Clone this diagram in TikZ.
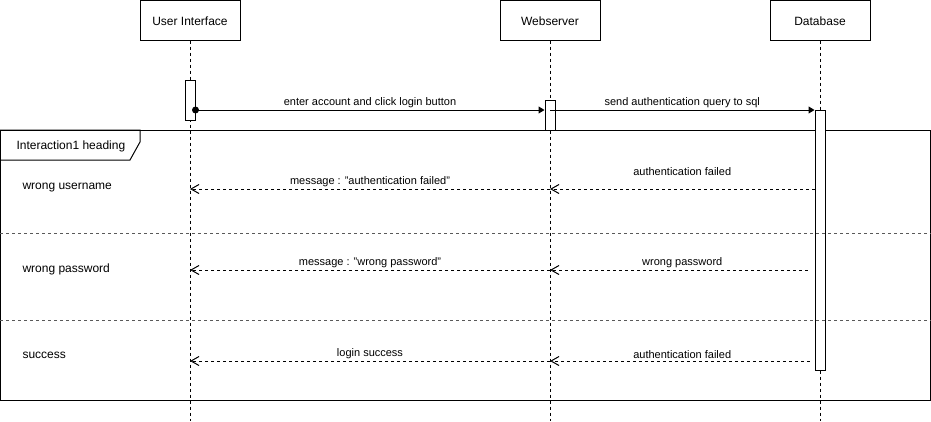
\documentclass[tikz,border=0pt]{standalone}
\usepackage{fontspec}
\setmainfont{Liberation Sans}
\usetikzlibrary{arrows.meta,positioning}

\begin{document}
\begin{tikzpicture}[x=1pt,y=-1pt,line width=1pt,on grid,
   font=\fontsize{11}{13}\selectfont,
   head/.style={draw,minimum width=100pt,minimum height=40pt,inner sep=0pt,
      font=\fontsize{12}{14}\selectfont,text height=11pt,text depth=1pt},
   case/.style={anchor=base west,inner sep=0pt,font=\fontsize{12}{14}\selectfont},
   act/.style={draw,fill=white,minimum width=10pt,inner sep=0pt},
   life/.style={dash pattern=on 3pt off 3pt},
   sep/.style={gray!70!black,dash pattern=on 3pt off 3pt},
   call/.style={-{Triangle[length=6pt,width=7pt]}},
   reply/.style={dash pattern=on 3pt off 3pt,-{Straight Barb[length=8pt,width=9pt]}},
   lbl/.style={above,inner sep=2pt}]
   \useasboundingbox (0,0) rectangle (931,421);
   % lifelines
   \node[head] (ui) at (190,20) {User Interface};
   \node[head] (ws) [right=360pt of ui] {Webserver};
   \node[head] (db) [right=270pt of ws] {Database};
   \coordinate (bottom) at (0,421);
   \foreach \l in {ui,ws,db}
      \draw[life] (\l.south) -- (\l |- bottom);
   % combined fragment
   \node[draw,anchor=north west,minimum width=930pt,minimum height=270pt] (frame) at (0,130) {};
   \draw (frame.north west) -- ++(140,0) -- ++(0,12) -- ++(-10,18) -- ++(-130,0);
   \node[case] (heading) at (16,149) {Interaction1 heading};
   \node[case] (case1) at (22,189) {wrong username};
   \node[case] (case2) at (22,272) {wrong password};
   \node[case] (case3) at (22,358) {success};
   % activations
   \node[act,minimum height=40pt] (ui act) at (190,100) {};
   \node[act,minimum height=30pt] (ws act) at (550,115) {};
   \node[act,minimum height=260pt] (db act) at (820,240) {};
   \draw[sep] (frame.west |- 0,233) -- (frame.east |- 0,233);
   \draw[sep] (frame.west |- 0,320) -- (frame.east |- 0,320);
   % messages
   \coordinate (row0) at (0,110);
   \coordinate (row1) at (0,189);
   \coordinate (row2) at (0,270);
   \coordinate (row3) at (0,361);
   \fill (ui act.east |- row0) circle (3.5pt);
   \draw[call] (ui act.east |- row0) -- node[lbl] {enter account and click login button} (ws act.west |- row0);
   \draw[call] (ws |- row0) -- node[lbl] {send authentication query to sql} (db act.west |- row0);
   \path[reply]
   (db act.west |- row1) edge node[lbl,yshift=11pt] {authentication failed} (ws |- row1)
   (ws |- row1) edge node[lbl] {message : "authentication failed"} (ui |- row1)
   (db act.west |- row2) edge[shorten <=7pt] node[lbl] {wrong password} (ws |- row2)
   (ws |- row2) edge node[lbl] {message : "wrong password"} (ui |- row2)
   (db act.west |- row3) edge[shorten <=5pt] node[lbl] {authentication failed} (ws |- row3)
   (ws |- row3) edge node[lbl] {login success} (ui |- row3);
\end{tikzpicture}
\end{document}
